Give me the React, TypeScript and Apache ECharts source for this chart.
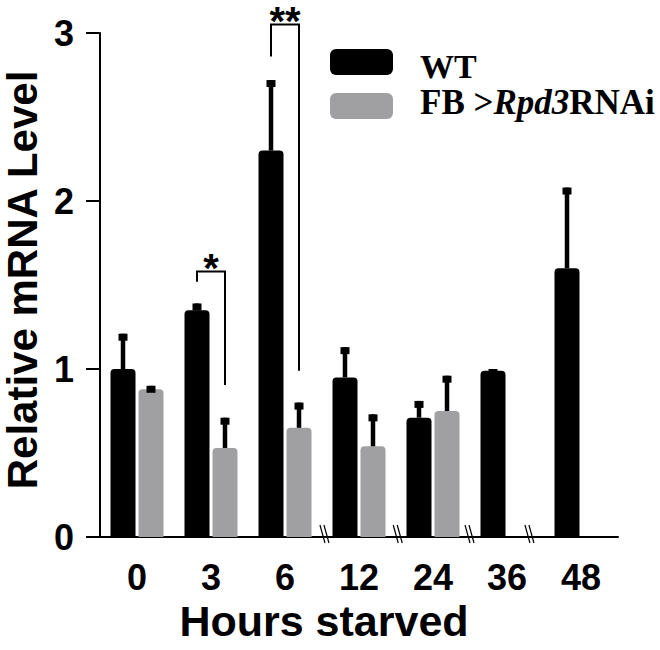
import React, { useEffect, useRef } from "react";
import * as echarts from "echarts";

const categories = ["0", "3", "6", "12", "24", "36", "48"];
const wtMean = [1.0, 1.35, 2.3, 0.95, 0.71, 0.99, 1.6];
const wtSem = [0.21, 0.04, 0.42, 0.18, 0.1, 0.01, 0.48];
const rnaiMean: (number | null)[] = [0.88, 0.53, 0.65, 0.54, 0.75, null, null];
const rnaiSem: (number | null)[] = [0.02, 0.18, 0.15, 0.19, 0.21, null, null];
const yTicks = [0, 1, 2, 3];

// significance brackets: [category index, bracket top, left leg end, right leg end]
const sigBrackets = [
  [1, 1.58, 1.52, 0.905],
  [2, 3.05, 2.86, 0.99],
];
const sigLabels = ["*", "**"];

// axis break marks: [category index, fraction of band after category centre]
const axisBreaks = [
  [2, 0.54],
  [3, 0.53],
  [4, 0.5],
  [5, 0.31],
];

const SANS = "'Liberation Sans', Arial, sans-serif";
const SERIF = "'Liberation Serif', 'Times New Roman', serif";
const BAR_W = 25;
const HALF = 14;
const GRAY = "#a0a0a2";

function errRenderer(offset: number) {
  return (params: any, api: any) => {
    const i = api.value(0);
    const m = api.value(1);
    const s = api.value(2);
    const base = api.coord([i, m]);
    const top = api.coord([i, m + s]);
    const x = base[0] + offset;
    return {
      type: "group",
      children: [
        {
          type: "rect",
          shape: { x: x - 2.25, y: top[1], width: 4.5, height: Math.max(base[1] - top[1], 0) },
          style: { fill: "#000" },
        },
        {
          type: "rect",
          shape: { x: x - 4.5, y: top[1], width: 9, height: 7 },
          style: { fill: "#000" },
        },
      ],
    };
  };
}

export default function App() {
  const ref = useRef<HTMLDivElement>(null);
  useEffect(() => {
    if (!ref.current) return;
    const chart = echarts.init(ref.current, null, { renderer: "svg" });
    const wtErrData = wtMean.map((m, i) => [i, m, wtSem[i]]);
    const rnaiErrData = rnaiMean
      .map((m, i) => (m == null ? null : [i, m, rnaiSem[i] as number]))
      .filter((d) => d != null);

    chart.setOption({
      animation: false,
      backgroundColor: "#fff",
      grid: { left: 100, right: 42, top: 33, bottom: 113, outerBoundsMode: "none" },
      xAxis: {
        type: "category",
        data: categories,
        axisTick: { show: false },
        axisLine: { lineStyle: { color: "#000", width: 2 } },
        axisLabel: {
          color: "#000",
          fontFamily: SANS,
          fontWeight: "bold",
          fontSize: 36,
          margin: 22,
        },
        name: "Hours starved",
        nameLocation: "middle",
        nameGap: 60,
        nameTextStyle: {
          color: "#000",
          fontFamily: SANS,
          fontWeight: "bold",
          fontSize: 43,
          padding: [0, 70, 0, 0],
        },
      },
      yAxis: {
        type: "value",
        min: yTicks[0],
        max: yTicks[yTicks.length - 1],
        interval: 1,
        splitLine: { show: false },
        axisLine: { show: true, lineStyle: { color: "#000", width: 2 } },
        axisTick: { show: true, length: 14, lineStyle: { color: "#000", width: 2 } },
        axisLabel: {
          color: "#000",
          fontFamily: SANS,
          fontWeight: "bold",
          fontSize: 36,
          margin: 26,
        },
        name: "Relative mRNA Level",
        nameLocation: "middle",
        nameGap: 55,
        nameTextStyle: {
          color: "#000",
          fontFamily: SANS,
          fontWeight: "bold",
          fontSize: 42,
          padding: [0, 0, 0, 10],
        },
      },
      series: [
        {
          name: "WT",
          type: "bar",
          data: wtMean,
          barWidth: BAR_W,
          barGap: "12%",
          itemStyle: { color: "#000", borderRadius: [4, 4, 0, 0] },
        },
        {
          name: "FB >Rpd3RNAi",
          type: "bar",
          data: rnaiMean,
          barWidth: BAR_W,
          barGap: "12%",
          itemStyle: { color: GRAY, borderRadius: [4, 4, 0, 0] },
        },
        {
          type: "custom",
          z: 3,
          data: wtErrData,
          encode: { x: 0, y: 1 },
          renderItem: errRenderer(-HALF),
          clip: false,
        },
        {
          type: "custom",
          z: 3,
          data: rnaiErrData,
          encode: { x: 0, y: 1 },
          renderItem: errRenderer(HALF),
          clip: false,
        },
        {
          type: "custom",
          z: 4,
          data: sigBrackets,
          encode: { x: 0, y: 1 },
          clip: false,
          renderItem: (params: any, api: any) => {
            const i = api.value(0);
            const c = api.coord([i, api.value(1)]);
            const yl = api.coord([i, api.value(2)])[1];
            const yr = api.coord([i, api.value(3)])[1];
            const lx = c[0] - HALF;
            const rx = c[0] + HALF;
            return {
              type: "group",
              children: [
                {
                  type: "polyline",
                  shape: { points: [[lx, yl], [lx, c[1]], [rx, c[1]], [rx, yr]] },
                  style: { stroke: "#000", lineWidth: 2, fill: null },
                },
                {
                  type: "text",
                  x: (lx + rx) / 2,
                  y: c[1] + 16,
                  style: {
                    text: sigLabels[params.dataIndex],
                    fill: "#000",
                    font: `bold 40px ${SANS}`,
                    align: "center",
                    verticalAlign: "bottom",
                  },
                },
              ],
            };
          },
        },
        {
          type: "custom",
          z: 4,
          data: axisBreaks,
          encode: { x: 0 },
          clip: false,
          renderItem: (params: any, api: any) => {
            const i = api.value(0);
            const f = api.value(1);
            const bw = api.size([1, 0])[0];
            const p = api.coord([i, 0]);
            const x = p[0] + bw * f;
            const y = p[1];
            return {
              type: "group",
              children: [
                {
                  type: "line",
                  shape: { x1: x - 5, y1: y - 12, x2: x, y2: y + 6 },
                  style: { stroke: "#000", lineWidth: 1.2 },
                },
                {
                  type: "line",
                  shape: { x1: x - 1, y1: y - 12, x2: x + 4, y2: y + 6 },
                  style: { stroke: "#000", lineWidth: 1.2 },
                },
              ],
            };
          },
        },
      ],
      graphic: [
        {
          type: "rect",
          shape: { x: 330, y: 49, width: 63, height: 26, r: 6 },
          style: { fill: "#000" },
        },
        {
          type: "text",
          x: 420,
          y: 66,
          style: {
            text: "WT",
            fill: "#000",
            font: `bold 34px ${SERIF}`,
            verticalAlign: "middle",
          },
        },
        {
          type: "rect",
          shape: { x: 330, y: 93, width: 63, height: 26, r: 6 },
          style: { fill: GRAY },
        },
        {
          type: "text",
          x: 420,
          y: 102,
          style: {
            text: "{n|FB >}{i|Rpd3}{n|RNAi}",
            verticalAlign: "middle",
            rich: {
              n: { fill: "#000", fontFamily: SERIF, fontWeight: "bold", fontSize: 35 },
              i: {
                fill: "#000",
                fontFamily: SERIF,
                fontWeight: "bold",
                fontStyle: "italic",
                fontSize: 35,
              },
            },
          },
        },
      ],
    });
    return () => chart.dispose();
  }, []);
  return (
    <div
      ref={ref}
      style={{ position: "absolute", left: 0, top: 0, width: 660, height: 650 }}
    />
  );
}
